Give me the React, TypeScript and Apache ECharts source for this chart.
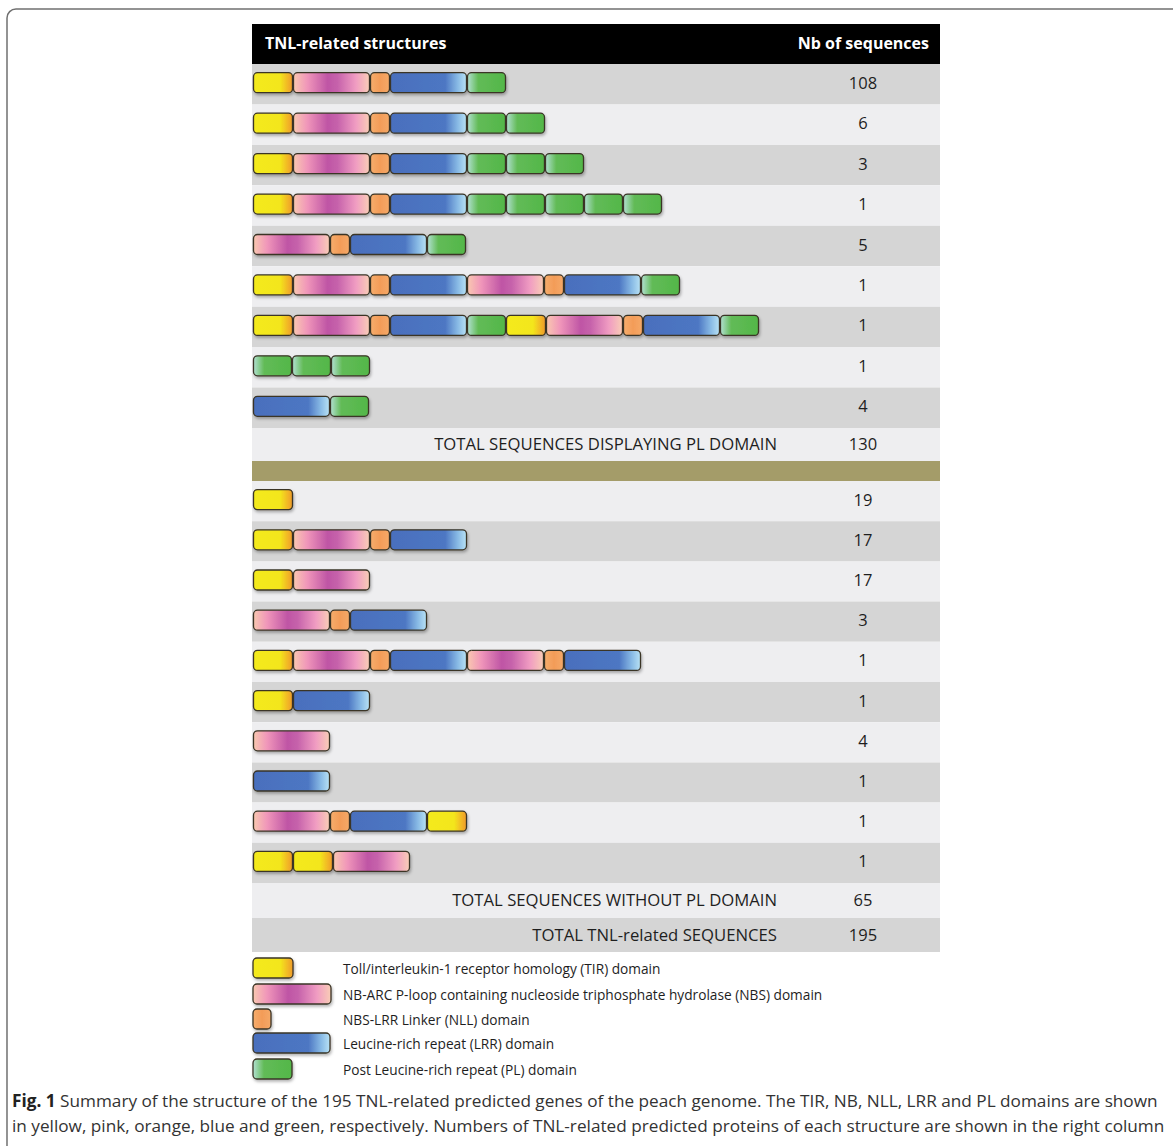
import React, { useEffect, useRef } from "react";
import * as echarts from "echarts";

// ---------------- data ----------------
const domainCodes = ["TIR", "NBS", "NLL", "LRR", "PL"];
// schematic length of each domain (drawing units on the x value axis)
const domainLengths = [40, 77, 20, 77, 39];
const domainNames = [
  "Toll/interleukin-1 receptor homology (TIR) domain",
  "NB-ARC P-loop containing nucleoside triphosphate hydrolase (NBS) domain",
  "NBS-LRR Linker (NLL) domain",
  "Leucine-rich repeat (LRR) domain",
  "Post Leucine-rich repeat (PL) domain",
];
const legendLengths = [40, 78, 18, 77, 39];

const withPLStructures = [
  ["TIR", "NBS", "NLL", "LRR", "PL"],
  ["TIR", "NBS", "NLL", "LRR", "PL", "PL"],
  ["TIR", "NBS", "NLL", "LRR", "PL", "PL", "PL"],
  ["TIR", "NBS", "NLL", "LRR", "PL", "PL", "PL", "PL", "PL"],
  ["NBS", "NLL", "LRR", "PL"],
  ["TIR", "NBS", "NLL", "LRR", "NBS", "NLL", "LRR", "PL"],
  ["TIR", "NBS", "NLL", "LRR", "PL", "TIR", "NBS", "NLL", "LRR", "PL"],
  ["PL", "PL", "PL"],
  ["LRR", "PL"],
];
const withPLCounts = [108, 6, 3, 1, 5, 1, 1, 1, 4];

const withoutPLStructures = [
  ["TIR"],
  ["TIR", "NBS", "NLL", "LRR"],
  ["TIR", "NBS"],
  ["NBS", "NLL", "LRR"],
  ["TIR", "NBS", "NLL", "LRR", "NBS", "NLL", "LRR"],
  ["TIR", "LRR"],
  ["NBS"],
  ["LRR"],
  ["NBS", "NLL", "LRR", "TIR"],
  ["TIR", "TIR", "NBS"],
];
const withoutPLCounts = [19, 17, 17, 3, 1, 1, 4, 1, 1, 1];

const headerLabels = ["TNL-related structures", "Nb of sequences"];
const totalLabels = [
  "TOTAL SEQUENCES DISPLAYING PL DOMAIN",
  "TOTAL SEQUENCES WITHOUT PL DOMAIN",
  "TOTAL TNL-related SEQUENCES",
];
const totalValues = [130, 65, 195];

const captionBold = "Fig. 1";
const captionLines = [
  " Summary of the structure of the 195 TNL-related predicted genes of the peach genome. The TIR, NB, NLL, LRR and PL domains are shown",
  "in yellow, pink, orange, blue and green, respectively. Numbers of TNL-related predicted proteins of each structure are shown in the right column",
];

// ---------------- styles ----------------
const FONT = "Open Sans";
const GREY = "#d5d5d5";
const LIGHT = "#eeeef0";
const OLIVE = "#a49c69";
const TEXT = "#1e1e1e";

const gradients: Record<string, [number, string][]> = {
  TIR: [
    [0, "#f4ea1d"],
    [0.68, "#f3e61c"],
    [0.88, "#f2b626"],
    [1, "#ee9a2c"],
  ],
  NBS: [
    [0, "#f9c8b0"],
    [0.18, "#f096ba"],
    [0.45, "#bf55a5"],
    [0.58, "#c662ab"],
    [0.82, "#f09cc2"],
    [1, "#f9cdb6"],
  ],
  NLL: [
    [0, "#f6ad6c"],
    [0.5, "#f39c58"],
    [1, "#f5a968"],
  ],
  LRR: [
    [0, "#4a6fbd"],
    [0.72, "#4d77c3"],
    [0.88, "#86b8e4"],
    [1, "#b8e2f5"],
  ],
  PL: [
    [0, "#b2e0d2"],
    [0.28, "#62bb57"],
    [1, "#53b749"],
  ],
};

function domainStyle(code: string) {
  const stops = gradients[code];
  return {
    fill: {
      type: "linear",
      x: 0,
      y: 0,
      x2: 1,
      y2: 0,
      colorStops: stops.map(([offset, color]) => ({ offset, color })),
    },
    stroke: "#3a3426",
    lineWidth: 1.3,
    shadowBlur: 3,
    shadowOffsetX: 1,
    shadowOffsetY: 2,
    shadowColor: "rgba(0,0,0,0.3)",
  };
}

const COUNT_X = 611; // count column centre, in x-axis units
const X_MAX = 688;

function makeRenderItem(structures: string[][]) {
  return (params: any, api: any) => {
    const idx = api.value(0);
    const count = api.value(1);
    const structure = structures[params.dataIndex];
    const bandH = api.size([0, 1])[1];
    const h = Math.round(bandH * 0.5);
    const children: any[] = [];
    let cum = 1;
    structure.forEach((code) => {
      const len = domainLengths[domainCodes.indexOf(code)];
      const p0 = api.coord([cum, idx]);
      const p1 = api.coord([cum + len, idx]);
      children.push({
        type: "rect",
        shape: { x: p0[0] + 0.5, y: p0[1] - h / 2 - 1.5, width: p1[0] - p0[0] - 1, height: h, r: 4 },
        style: domainStyle(code),
      });
      cum += len;
    });
    const pc = api.coord([COUNT_X, idx]);
    children.push({
      type: "text",
      style: {
        text: String(count),
        x: pc[0],
        y: pc[1] - 2,
        align: "center",
        verticalAlign: "middle",
        fontFamily: FONT,
        fontSize: 16.5,
        fill: TEXT,
      },
    });
    return { type: "group", children };
  };
}

function buildOption() {
  const g1Top = 64;
  const g1H = 364;
  const g2Top = 481;
  const g2H = 402;
  const left = 252;
  const width = 688;

  const graphic: any[] = [];
  // frame
  graphic.push({
    type: "rect",
    shape: { x: 7, y: 9, width: 1300, height: 1300, r: 9 },
    style: { fill: "none", stroke: "#707070", lineWidth: 1.5 },
    z: 0,
  });
  // header
  graphic.push({
    type: "rect",
    shape: { x: left, y: 24, width, height: 40 },
    style: { fill: "#000" },
  });
  graphic.push({
    type: "text",
    style: {
      text: headerLabels[0], x: 265, y: 43, align: "left", verticalAlign: "middle",
      fontFamily: FONT, fontSize: 16, fontWeight: "bold", fill: "#fff",
    },
  });
  graphic.push({
    type: "text",
    style: {
      text: headerLabels[1], x: 929, y: 43, align: "right", verticalAlign: "middle",
      fontFamily: FONT, fontSize: 16, fontWeight: "bold", fill: "#fff",
    },
  });
  // totals rows
  const totalRows = [
    { y: g1Top + g1H, h: 33, bg: LIGHT },
    { y: g2Top + g2H, h: 35, bg: LIGHT },
    { y: g2Top + g2H + 35, h: 34, bg: GREY },
  ];
  totalRows.forEach((r, i) => {
    graphic.push({ type: "rect", shape: { x: left, y: r.y, width, height: r.h }, style: { fill: r.bg } });
    graphic.push({
      type: "text",
      style: {
        text: totalLabels[i], x: 777, y: r.y + r.h / 2 - 1, align: "right", verticalAlign: "middle",
        fontFamily: FONT, fontSize: 16.7, fill: TEXT,
      },
    });
    graphic.push({
      type: "text",
      style: {
        text: String(totalValues[i]), x: 863, y: r.y + r.h / 2 - 1, align: "center", verticalAlign: "middle",
        fontFamily: FONT, fontSize: 16.5, fill: TEXT,
      },
    });
  });
  // olive separator
  graphic.push({
    type: "rect",
    shape: { x: left, y: g1Top + g1H + 33, width, height: g2Top - (g1Top + g1H + 33) },
    style: { fill: OLIVE },
  });
  // legend
  const legTops = [958, 984, 1009, 1033, 1059];
  domainCodes.forEach((code, i) => {
    graphic.push({
      type: "rect",
      shape: { x: 253, y: legTops[i], width: legendLengths[i], height: 20, r: 4 },
      style: domainStyle(code),
    });
    graphic.push({
      type: "text",
      style: {
        text: domainNames[i], x: 343, y: legTops[i] + 10, align: "left", verticalAlign: "middle",
        fontFamily: FONT, fontSize: 13.7, fill: TEXT,
      },
    });
  });
  // caption
  graphic.push({
    type: "text",
    style: {
      text: "{b|" + captionBold + "}" + captionLines[0],
      x: 12, y: 1100, align: "left", verticalAlign: "middle",
      fontFamily: FONT, fontSize: 17.2, fill: "#333",
      rich: { b: { fontFamily: FONT, fontSize: 17.2, fontWeight: "bold", fill: "#222" } },
    },
  });
  graphic.push({
    type: "text",
    style: {
      text: captionLines[1], x: 12, y: 1125, align: "left", verticalAlign: "middle",
      fontFamily: FONT, fontSize: 17.2, fill: "#333",
    },
  });

  const yAxisBase = (n: number, gridIndex: number, colors: string[]) => ({
    type: "category",
    gridIndex,
    inverse: true,
    data: Array.from({ length: n }, (_, i) => "r" + i),
    axisLine: { show: false },
    axisTick: { show: false },
    axisLabel: { show: false },
    splitLine: { show: false },
    splitArea: { show: true, areaStyle: { color: colors } },
  });

  return {
    animation: false,
    backgroundColor: "#fff",
    grid: [
      { left, top: g1Top, width, height: g1H },
      { left, top: g2Top, width, height: g2H },
    ],
    xAxis: [
      { type: "value", gridIndex: 0, min: 0, max: X_MAX, show: false },
      { type: "value", gridIndex: 1, min: 0, max: X_MAX, show: false },
    ],
    yAxis: [
      yAxisBase(withPLStructures.length, 0, [GREY, LIGHT]),
      yAxisBase(withoutPLStructures.length, 1, [LIGHT, GREY]),
    ],
    series: [
      {
        type: "custom",
        xAxisIndex: 0,
        yAxisIndex: 0,
        encode: { y: 0 },
        renderItem: makeRenderItem(withPLStructures),
        data: withPLCounts.map((c, i) => [i, c]),
        z: 5,
      },
      {
        type: "custom",
        xAxisIndex: 1,
        yAxisIndex: 1,
        encode: { y: 0 },
        renderItem: makeRenderItem(withoutPLStructures),
        data: withoutPLCounts.map((c, i) => [i, c]),
        z: 5,
      },
    ],
    graphic,
  };
}

export default function App() {
  const ref = useRef<HTMLDivElement>(null);
  useEffect(() => {
    if (!ref.current) return;
    const chart = echarts.init(ref.current, null, { renderer: "svg" });
    chart.setOption(buildOption() as any);
    return () => chart.dispose();
  }, []);
  return (
    <div
      ref={ref}
      style={{ position: "absolute", left: 0, top: 0, width: 1173, height: 1146, background: "#fff" }}
    />
  );
}
